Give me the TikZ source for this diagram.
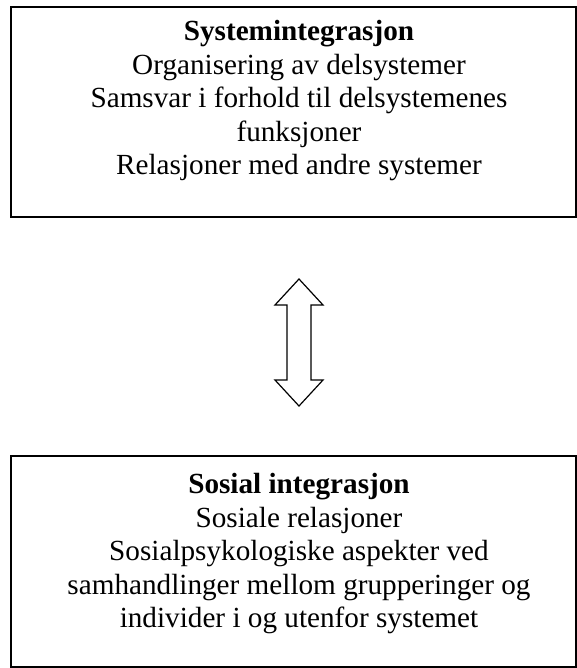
\documentclass[tikz,border=0pt]{standalone}
\usepackage{fontspec}
\setmainfont{Liberation Serif}
\usetikzlibrary{positioning}

\begin{document}
\begin{tikzpicture}[
x=1pt,y=-1pt,
frame/.style={
  draw,
  line width=1.6pt,
  minimum width=565pt,
  inner sep=0pt
  },
txt/.style={
  align=center,
  inner sep=0pt,
  font=\fontsize{29.2}{33.5}\selectfont
  },
blockarrow/.style={
  draw,
  line width=1.2pt,
  fill=white
  },
>=latex
]
\useasboundingbox (0,0) rectangle (577,668);

\node[frame,minimum height=210pt] (sys) at (293.5,112) {};
\node[frame,minimum height=211pt] (soc) at (293.5,561.5) {};

\node[txt] (systxt) at (299,101)
  {\textbf{Systemintegrasjon}\\
   Organisering av delsystemer\\
   Samsvar i forhold til delsystemenes\\
   funksjoner\\
   Relasjoner med andre systemer};
\node[txt] (soctxt) at (299,554)
  {\textbf{Sosial integrasjon}\\
   Sosiale relasjoner\\
   Sosialpsykologiske aspekter ved\\
   samhandlinger mellom grupperinger og\\
   individer i og utenfor systemet};

% block arrow between the two boxes
\coordinate (link) at (299,342.5);
\draw[blockarrow] (link) ++(0,-63.5) -- ++(-24,26) -- ++(12,0) -- ++(0,75)
  -- ++(-12,0) -- ++(24,26) -- ++(24,-26) -- ++(-12,0) -- ++(0,-75)
  -- ++(12,0) -- cycle;

\end{tikzpicture}
\end{document}
